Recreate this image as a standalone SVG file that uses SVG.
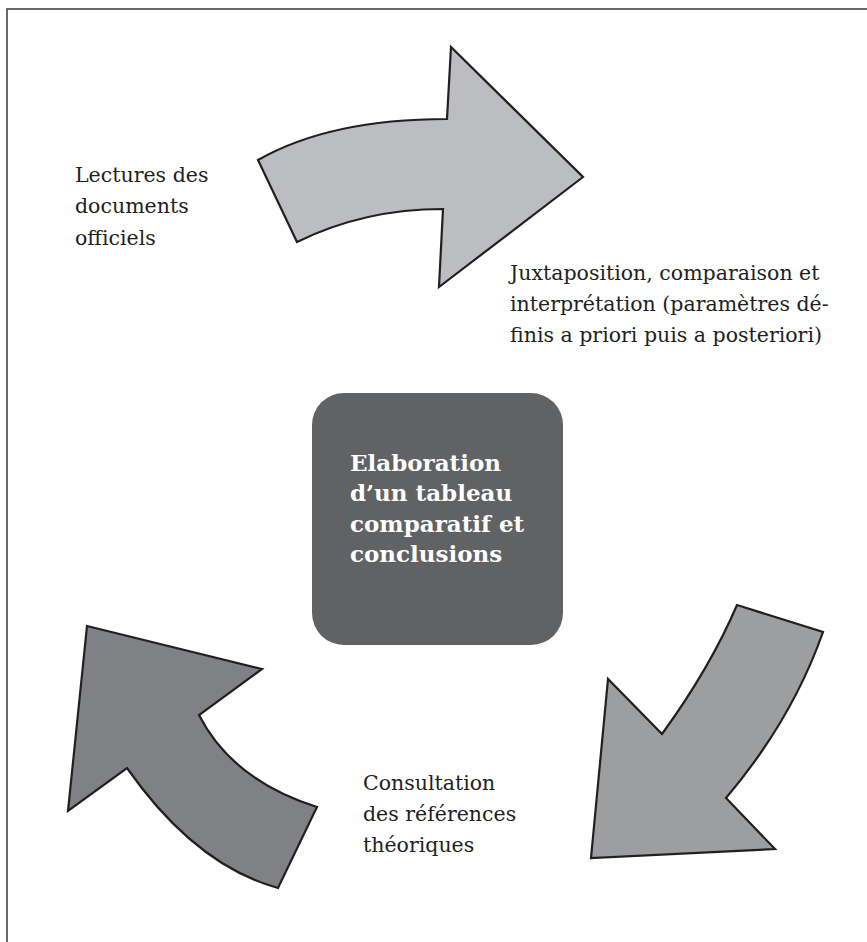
<svg xmlns="http://www.w3.org/2000/svg" width="867" height="942" viewBox="0 0 867 942">
<style>
.arrow{stroke:#231f20;stroke-width:2.2;stroke-linejoin:miter}
.lbl{font-family:"DejaVu Serif","Liberation Serif",serif;font-size:20.5px;fill:#231f20}
.ctr{font-family:"DejaVu Serif","Liberation Serif",serif;font-size:23px;font-weight:bold;fill:#ffffff}
</style>
<rect x="7" y="9" width="900" height="1000" fill="#ffffff" stroke="#444444" stroke-width="1.6"/>
<g id="connectors">
<path id="arrow-top" class="arrow" fill="#bcbdc0" d="M258,160 Q330,119 447,119 L451,47 L583,177 L439,287 L443,209 Q364,209 297,242 Z"/>
<path id="arrow-right" class="arrow" fill="#9d9ea0" d="M737,605 L823,632 Q792,720 726,798 L775,849 L591,858 L608,679 L662,734 Q710,668 737,605 Z"/>
<path id="arrow-left" class="arrow" fill="#808184" d="M87,626 L262,669 L199,715 Q232,780 317,807 L278,888 Q195,865 127,768 L68,811 Z"/>
</g>
<g id="node-center">
<rect x="312" y="393" width="251" height="252" rx="32" ry="32" fill="#616264"/>
<text class="ctr" x="350" y="471">Elaboration</text>
<text class="ctr" x="350" y="501">d’un tableau</text>
<text class="ctr" x="350" y="532">comparatif et</text>
<text class="ctr" x="350" y="562">conclusions</text>
</g>
<g id="node-lectures">
<text class="lbl" x="75" y="182">Lectures des</text>
<text class="lbl" x="75" y="213">documents</text>
<text class="lbl" x="75" y="245">officiels</text>
</g>
<g id="node-juxtaposition">
<text class="lbl" x="510" y="280">Juxtaposition, comparaison et</text>
<text class="lbl" x="510" y="311">interprétation (paramètres dé-</text>
<text class="lbl" x="510" y="342">finis a priori puis a posteriori)</text>
</g>
<g id="node-consultation">
<text class="lbl" x="363" y="790">Consultation</text>
<text class="lbl" x="363" y="821">des références</text>
<text class="lbl" x="363" y="852">théoriques</text>
</g>
</svg>
